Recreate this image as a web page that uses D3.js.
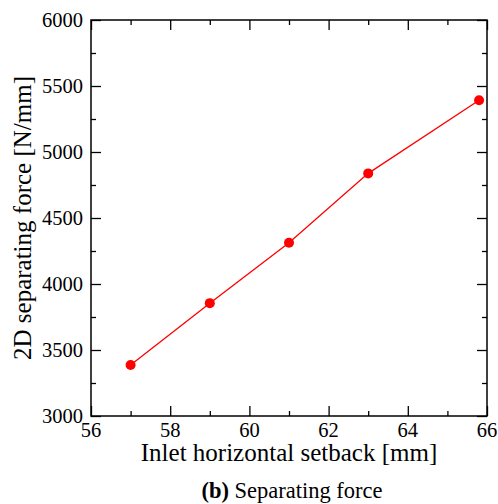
<!DOCTYPE html>
<html><head><meta charset="utf-8">
<script src="https://cdn.jsdelivr.net/npm/d3@7"></script>
<style>body{margin:0;background:#fff;} text{font-family:"Liberation Serif","DejaVu Serif",serif;}</style>
</head><body>
<svg id="c" width="498" height="504"></svg>
<script>
const xValues = [57, 59, 61, 63, 65.8];
const forceValues = [3386, 3855, 4312, 4838, 5392];
const xTicks = [56, 58, 60, 62, 64, 66];
const yTicks = [3000, 3500, 4000, 4500, 5000, 5500, 6000];
const xMinor = [57, 59, 61, 63, 65];
const yMinor = [3250, 3750, 4250, 4750, 5250, 5750];

const svg = d3.select("#c");
const L = 91, R = 487, T = 20, B = 416;
const x = d3.scaleLinear().domain([56, 66]).range([L, R]);
const y = d3.scaleLinear().domain([3000, 6000]).range([B, T]);

const g = svg.append("g");
function ax(gen, tr, ticks, size) {
  const a = g.append("g").attr("transform", tr)
    .call(gen.tickValues(ticks).tickSizeInner(size).tickSizeOuter(0).tickFormat(""));
  a.select(".domain").remove();
  a.selectAll("line").attr("stroke", "#000").attr("stroke-width", 1.3);
  return a;
}
ax(d3.axisTop(x), `translate(0,${B})`, xTicks, 10);
ax(d3.axisTop(x), `translate(0,${B})`, xMinor, 5);
ax(d3.axisBottom(x), `translate(0,${T})`, xTicks, 10);
ax(d3.axisBottom(x), `translate(0,${T})`, xMinor, 5);
ax(d3.axisRight(y), `translate(${L},0)`, yTicks, 10);
ax(d3.axisRight(y), `translate(${L},0)`, yMinor, 5);
ax(d3.axisLeft(y), `translate(${R},0)`, yTicks, 10);
ax(d3.axisLeft(y), `translate(${R},0)`, yMinor, 5);

// tick labels
g.selectAll(".xl").data(xTicks).enter().append("text")
  .attr("x", d => x(d)).attr("y", B + 21).attr("text-anchor", "middle")
  .attr("font-size", 20.5).text(d => d);
g.selectAll(".yl").data(yTicks).enter().append("text")
  .attr("x", L - 8).attr("y", d => y(d) + 7).attr("text-anchor", "end")
  .attr("font-size", 20.5).text(d => d);

// frame
g.append("rect").attr("x", L).attr("y", T).attr("width", R - L).attr("height", B - T)
  .attr("fill", "none").attr("stroke", "#000").attr("stroke-width", 1.5);

// data
const pts = xValues.map((v, i) => [v, forceValues[i]]);
g.append("path").datum(pts)
  .attr("d", d3.line().x(d => x(d[0])).y(d => y(d[1])))
  .attr("fill", "none").attr("stroke", "#ff0000").attr("stroke-width", 1.3);
g.selectAll(".pt").data(pts).enter().append("circle")
  .attr("cx", d => x(d[0])).attr("cy", d => y(d[1])).attr("r", 5).attr("fill", "#ff0000");

// axis titles
svg.append("text").attr("x", (L + R) / 2).attr("y", 461).attr("text-anchor", "middle")
  .attr("font-size", 25).text("Inlet horizontal setback [mm]");
svg.append("text").attr("transform", `translate(31,${(T + B) / 2}) rotate(-90)`)
  .attr("text-anchor", "middle").attr("font-size", 25).text("2D separating force [N/mm]");
const t = svg.append("text").attr("x", 292).attr("y", 498).attr("text-anchor", "middle").attr("font-size", 22.5);
t.append("tspan").attr("font-weight", "bold").text("(b)");
t.append("tspan").text(" Separating force");
</script>
</body></html>
